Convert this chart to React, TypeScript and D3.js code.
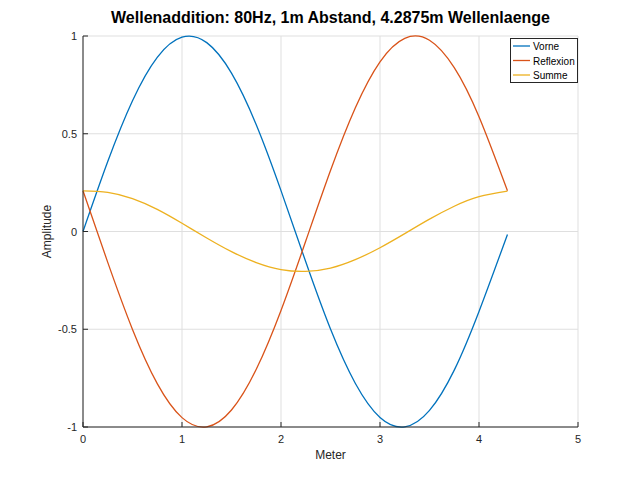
import React from 'react';
import * as d3 from 'd3';

const meter = [0, 0.25, 0.5, 0.75, 1.0, 1.25, 1.5, 1.75, 2.0, 2.25, 2.5, 2.75, 3.0, 3.25, 3.5, 3.75, 4.0, 4.2875];

const vorne = [0, 0.358, 0.669, 0.891, 0.994, 0.966, 0.81, 0.546, 0.209, -0.155, -0.499, -0.776, -0.951, -0.999, -0.915, -0.709, -0.409, -0.015];
const reflexion = [0.208, -0.158, -0.501, -0.778, -0.952, -0.999, -0.913, -0.705, -0.404, -0.049, 0.312, 0.632, 0.868, 0.988, 0.978, 0.838, 0.587, 0.208];
const summe = [0.208, 0.2, 0.168, 0.113, 0.042, -0.033, -0.103, -0.159, -0.195, -0.204, -0.187, -0.144, -0.083, -0.011, 0.063, 0.129, 0.178, 0.206];

const seriesNames = ['Vorne', 'Reflexion', 'Summe'];
const seriesValues = [vorne, reflexion, summe];
const seriesColors = ['#0072BD', '#D95319', '#EDB120'];

const xTicks = [0, 1, 2, 3, 4, 5];
const yTicks = [-1, -0.5, 0, 0.5, 1];

const title = 'Wellenaddition: 80Hz, 1m Abstand, 4.2875m Wellenlaenge';

const App = () => {
  const width = 640;
  const height = 480;
  const margin = { top: 36, right: 62, bottom: 53, left: 83 };
  const font = '"Liberation Sans", Arial, Helvetica, sans-serif';
  const axisColor = '#262626';
  const gridColor = '#dfdfdf';

  const x = d3.scaleLinear().domain([0, 5]).range([margin.left, width - margin.right]);
  const y = d3.scaleLinear().domain([-1, 1]).range([height - margin.bottom, margin.top]);

  const line = d3
    .line<number>()
    .x((_, i) => x(meter[i]))
    .y((d) => y(d))
    .curve(d3.curveNatural);

  const x0 = x(0);
  const x1 = x(5);
  const y0 = y(-1);
  const y1 = y(1);

  // legend box
  const lg = { x: 510, y: 38, w: 67, h: 44 };

  return (
    <svg width={width} height={height} style={{ position: 'absolute', left: 0, top: 0, background: '#fff' }}>
      <rect x={0} y={0} width={width} height={height} fill="#fff" />

      {/* grid */}
      {xTicks.map((t) => (
        <line key={'gx' + t} x1={x(t)} x2={x(t)} y1={y0} y2={y1} stroke={gridColor} strokeWidth={1} />
      ))}
      {yTicks.map((t) => (
        <line key={'gy' + t} x1={x0} x2={x1} y1={y(t)} y2={y(t)} stroke={gridColor} strokeWidth={1} />
      ))}

      {/* curves */}
      {seriesValues.map((vals, i) => (
        <path key={seriesNames[i]} d={line(vals) || ''} fill="none" stroke={seriesColors[i]} strokeWidth={1.3} />
      ))}

      {/* axes */}
      <line x1={x0} x2={x1} y1={y0} y2={y0} stroke={axisColor} strokeWidth={1} />
      <line x1={x0} x2={x0} y1={y0} y2={y1} stroke={axisColor} strokeWidth={1} />
      {xTicks.map((t) => (
        <g key={'tx' + t}>
          <line x1={x(t)} x2={x(t)} y1={y0} y2={y0 - 5} stroke={axisColor} strokeWidth={1} />
          <text x={x(t)} y={y0 + 16} textAnchor="middle" fontFamily={font} fontSize={11} fill={axisColor}>
            {t}
          </text>
        </g>
      ))}
      {yTicks.map((t) => (
        <g key={'ty' + t}>
          <line x1={x0} x2={x0 + 5} y1={y(t)} y2={y(t)} stroke={axisColor} strokeWidth={1} />
          <text x={x0 - 6} y={y(t) + 4} textAnchor="end" fontFamily={font} fontSize={11} fill={axisColor}>
            {t}
          </text>
        </g>
      ))}

      {/* labels */}
      <text x={(x0 + x1) / 2} y={459} textAnchor="middle" fontFamily={font} fontSize={12} fill={axisColor}>
        Meter
      </text>
      <text
        transform={`translate(51, ${(y0 + y1) / 2}) rotate(-90)`}
        textAnchor="middle"
        fontFamily={font}
        fontSize={12}
        fill={axisColor}
      >
        Amplitude
      </text>
      <text x={(x0 + x1) / 2} y={23} textAnchor="middle" fontFamily={font} fontSize={16} fontWeight="bold" fill="#000">
        {title}
      </text>

      {/* legend */}
      <rect x={lg.x + 0.5} y={lg.y + 0.5} width={lg.w} height={lg.h} fill="#fff" stroke={axisColor} strokeWidth={1} />
      {seriesNames.map((name, i) => (
        <g key={'lg' + name}>
          <line x1={lg.x + 3} x2={lg.x + 20} y1={lg.y + 8 + i * 14.5} y2={lg.y + 8 + i * 14.5} stroke={seriesColors[i]} strokeWidth={1.3} />
          <text x={lg.x + 23} y={lg.y + 12 + i * 14.5} fontFamily={font} fontSize={10} fill="#000">
            {name}
          </text>
        </g>
      ))}
    </svg>
  );
};

export default App;
